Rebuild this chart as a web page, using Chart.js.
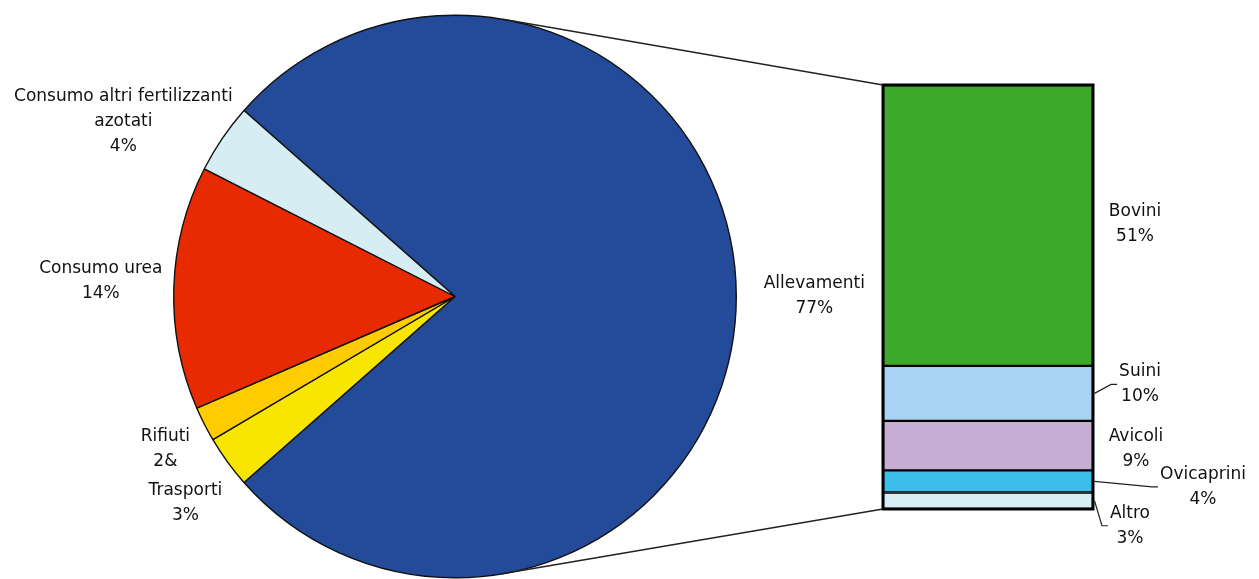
<!DOCTYPE html>
<html>
<head>
<meta charset="utf-8">
<script src="https://cdn.jsdelivr.net/npm/chart.js@4.4.0/dist/chart.umd.min.js"></script>
<style>
  body { margin: 0; background: #fff; }
  #wrap { position: relative; width: 1259px; height: 579px; }
  canvas { position: absolute; left: 0; top: 0; }
</style>
</head>
<body>
<div id="wrap">
  <canvas id="pieChart" width="1259" height="579"></canvas>
  <canvas id="barChart" width="1259" height="579"></canvas>
</div>
<script>
// pie: sources of emissions
const pieLabels = ['Allevamenti', 'Trasporti', 'Rifiuti', 'Consumo urea', 'Consumo altri fertilizzanti azotati'];
const pieValues = [77, 3, 2, 14, 4];
const pieText = [
    ['Allevamenti', '77%'],
    ['Trasporti', '3%'],
    ['Rifiuti', '2&'],
    ['Consumo urea', '14%'],
    ['Consumo altri fertilizzanti', 'azotati', '4%']
];
const pieColors = ['#234B9A', '#F8E600', '#FFCC00', '#E82A00', '#D6EDF3'];

// bar: breakdown of Allevamenti (bottom to top)
const barLabels = ['Altro', 'Ovicaprini', 'Avicoli', 'Suini', 'Bovini'];
const barValues = [3, 4, 9, 10, 51];
const barText = [
    ['Altro', '3%'],
    ['Ovicaprini', '4%'],
    ['Avicoli', '9%'],
    ['Suini', '10%'],
    ['Bovini', '51%']
];
const barColors = ['#D6EEF4', '#3ABDE6', '#C6ADD3', '#A9D3F2', '#3DA82A'];

// label placement (offset from slice edge / segment edge), leader flag
const pieLabelOffsets = [[78, 0], [-42, 41], [-39, 25], [-73, -7], [-99, -17]];
const barLabelOffsets = [[37, 25, true], [110, 5.5, true], [43, 3, false], [47, -9, true], [42, -1, false]];

const FONT = '17px "DejaVu Sans"';
const LINE_H = 25;
const TEXT_COLOR = '#111';

function drawLines(ctx, lines, x, y) {
    ctx.font = FONT;
    ctx.fillStyle = TEXT_COLOR;
    ctx.textAlign = 'center';
    ctx.textBaseline = 'middle';
    let left = Infinity;
    lines.forEach((t, i) => {
        ctx.fillText(t, x, y + (i - (lines.length - 1) / 2) * LINE_H);
        left = Math.min(left, x - ctx.measureText(t).width / 2);
    });
    return left;
}

const pieLabelPlugin = {
    id: 'pieLabels',
    afterDatasetsDraw(chart) {
        const ctx = chart.ctx;
        ctx.save();
        chart.getDatasetMeta(0).data.forEach((arc, i) => {
            const mid = (arc.startAngle + arc.endAngle) / 2;
            const ex = arc.x + arc.outerRadius * Math.cos(mid);
            const ey = arc.y + arc.outerRadius * Math.sin(mid);
            drawLines(ctx, pieText[i], ex + pieLabelOffsets[i][0], ey + pieLabelOffsets[i][1]);
        });
        ctx.restore();
    }
};

const pieChart = new Chart(document.getElementById('pieChart').getContext('2d'), {
    type: 'pie',
    data: {
        labels: pieLabels,
        datasets: [{
            data: pieValues,
            backgroundColor: pieColors,
            borderColor: '#111',
            borderWidth: 1.4
        }]
    },
    options: {
        responsive: false,
        animation: false,
        rotation: -48.6,
        layout: { padding: { left: 173, right: 522, top: 14, bottom: 0 } },
        plugins: {
            legend: { display: false },
            tooltip: { enabled: false }
        }
    },
    plugins: [pieLabelPlugin]
});

const barExtrasPlugin = {
    id: 'barExtras',
    afterDraw(chart) {
        const ctx = chart.ctx;
        const n = barValues.length;
        const topEl = chart.getDatasetMeta(n - 1).data[0];
        const botEl = chart.getDatasetMeta(0).data[0];
        const left = topEl.x - topEl.width / 2;
        const right = topEl.x + topEl.width / 2;
        const top = topEl.y;
        const bottom = botEl.base;

        ctx.save();
        // outer outline of the stack
        ctx.strokeStyle = '#000';
        ctx.lineWidth = 3;
        ctx.strokeRect(left, top, right - left, bottom - top);

        // connector lines, tangent to the pie
        const arc = pieChart.getDatasetMeta(0).data[0];
        const cx = arc.x, cy = arc.y, r = arc.outerRadius;
        function tangent(px, py, sign) {
            const dx = px - cx, dy = py - cy;
            const d = Math.hypot(dx, dy);
            const a = Math.atan2(dy, dx) + sign * Math.acos(r / d);
            return [cx + r * Math.cos(a), cy + r * Math.sin(a)];
        }
        ctx.lineWidth = 1.4;
        ctx.strokeStyle = '#222';
        const t1 = tangent(left, top, -1);
        const t2 = tangent(left, bottom, 1);
        ctx.beginPath();
        ctx.moveTo(t1[0], t1[1]); ctx.lineTo(left, top);
        ctx.moveTo(t2[0], t2[1]); ctx.lineTo(left, bottom);
        ctx.stroke();

        // segment labels with leaders
        barText.forEach((lines, i) => {
            const el = chart.getDatasetMeta(i).data[0];
            const segMid = (el.y + el.base) / 2;
            const ex = el.x + el.width / 2;
            const lx = ex + barLabelOffsets[i][0];
            const ly = segMid + barLabelOffsets[i][1];
            const textLeft = drawLines(ctx, lines, lx, ly);
            if (barLabelOffsets[i][2]) {
                ctx.strokeStyle = '#222';
                ctx.lineWidth = 1.2;
                ctx.beginPath();
                ctx.moveTo(ex + 1.5, segMid);
                ctx.lineTo(textLeft - 8, ly);
                ctx.lineTo(textLeft - 2, ly);
                ctx.stroke();
            }
        });
        ctx.restore();
    }
};

const barChart = new Chart(document.getElementById('barChart').getContext('2d'), {
    type: 'bar',
    data: {
        labels: ['Allevamenti'],
        datasets: barLabels.map((label, i) => ({
            label: label,
            data: [barValues[i]],
            backgroundColor: barColors[i],
            borderColor: '#000',
            borderWidth: 1.5,
            borderSkipped: false,
            barPercentage: 1,
            categoryPercentage: 1
        }))
    },
    options: {
        responsive: false,
        animation: false,
        layout: { padding: { left: 883, right: 166, top: 85, bottom: 70 } },
        scales: {
            x: { display: false, stacked: true },
            y: { display: false, stacked: true, min: 0, max: 77 }
        },
        plugins: {
            legend: { display: false },
            tooltip: { enabled: false }
        }
    },
    plugins: [barExtrasPlugin]
});
</script>
</body>
</html>
